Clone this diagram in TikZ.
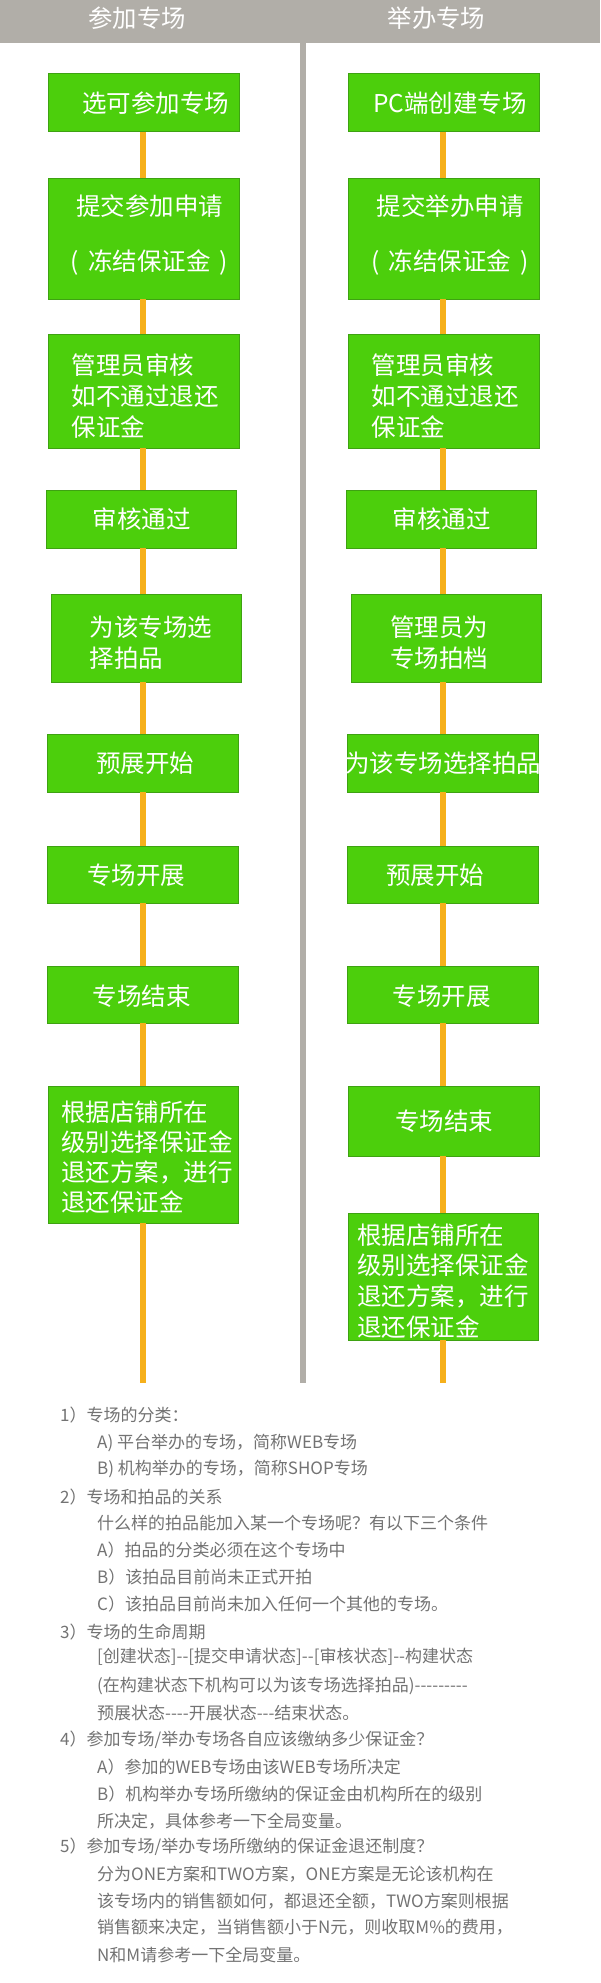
\documentclass[tikz,border=0pt]{standalone}
\usepackage{fontspec}
\newfontfamily\cjk{Noto Sans CJK SC}
\definecolor{hdrgray}{HTML}{B1AEA8}
\definecolor{boxgreen}{HTML}{4CCF0C}
\definecolor{boxedge}{HTML}{3EA212}
\definecolor{lineorange}{HTML}{F6B01B}
\definecolor{notegray}{HTML}{737373}
\tikzset{
  flowbox/.style={draw=boxedge, line width=1pt, fill=boxgreen, inner sep=0pt, outer sep=0pt},
  boxtext/.style={text=white, inner sep=0pt, font=\cjk\fontsize{24.5pt}{31pt}\selectfont},
  conn/.style={draw=lineorange, line width=6pt},
  hdrtext/.style={text=white, inner sep=0pt, font=\cjk\fontsize{24.4pt}{28pt}\selectfont},
  note/.style={text=notegray, inner sep=0pt, anchor=west, font=\cjk\fontsize{17pt}{20pt}\selectfont}
}
\newcommand{\flowrect}[5]{% name, x1, x2, y1, y2
  \node[flowbox, minimum width={(#3-#2)*1pt}, minimum height={(#5-#4)*1pt}] (#1) at ({(#2+#3)/2},{(#4+#5)/2}) {};}
\newcommand{\frozentext}{(\hspace{9pt}冻结保证金\hspace{9pt})}
\begin{document}
\begin{tikzpicture}[x=1pt,y=-1pt]
\useasboundingbox (0,0) rectangle (600,1983);
\fill[white] (0,0) rectangle (600,1983);
% header
\fill[hdrgray] (0,0) rectangle (600,43);
\fill[hdrgray] (300,43) rectangle (306,1383);
\node[hdrtext] (h1) at (137,18.5) {参加专场};
\node[hdrtext] (h2) at (436.5,18.5) {举办专场};
% left boxes
\flowrect{l1}{48}{239}{74}{132}
\flowrect{l2}{48}{239}{178}{299}
\flowrect{l3}{48}{239}{334}{448}
\flowrect{l4}{46}{236.5}{490}{548}
\flowrect{l5}{51}{241.5}{594}{682}
\flowrect{l6}{47}{238}{734}{792}
\flowrect{l7}{47}{238}{846}{903}
\flowrect{l8}{47}{238}{966}{1023}
\flowrect{l9}{48}{238}{1086}{1223}
% right boxes
\flowrect{r1}{348}{539}{74}{132}
\flowrect{r2}{348}{539}{178}{299}
\flowrect{r3}{348}{539}{334}{448}
\flowrect{r4}{346}{536.5}{490}{548}
\flowrect{r5}{351}{541.5}{594}{682}
\flowrect{r6}{347}{538}{734}{792}
\flowrect{r7}{347}{538}{846}{903}
\flowrect{r8}{347}{538}{966}{1023}
\flowrect{r9}{348}{539}{1086}{1156}
\flowrect{r10}{348}{538}{1213}{1340}
% axis coordinates
\coordinate (lx) at (143,0);
\coordinate (rx) at (443,0);
\coordinate (lend) at (143,1383);
\coordinate (rend) at (443,1383);
% connectors
\foreach \a/\b in {l1/l2,l2/l3,l3/l4,l4/l5,l5/l6,l6/l7,l7/l8,l8/l9}
  \draw[conn] (\a.south -| lx) -- (\b.north -| lx);
\draw[conn] (l9.south -| lx) -- (lend);
\foreach \a/\b in {r1/r2,r2/r3,r3/r4,r4/r5,r5/r6,r6/r7,r7/r8,r8/r9,r9/r10}
  \draw[conn] (\a.south -| rx) -- (\b.north -| rx);
\draw[conn] (r10.south -| rx) -- (rend);
% box texts left
\node[boxtext] (l1t) at (155.5,103) {选可参加专场};
\node[boxtext, align=center, font=\cjk\fontsize{24.5pt}{55pt}\selectfont] (l2t) at (149.5,234.5) {提交参加申请\\\frozentext};
\node[boxtext, align=left, anchor=west] (l3t) at (71.5,396) {管理员审核\\如不通过退还\\保证金};
\node[boxtext] (l4t) at (141.6,519) {审核通过};
\node[boxtext, align=left, anchor=west] (l5t) at (89.5,642.5) {为该专场选\\择拍品};
\node[boxtext] (l6t) at (145,763) {预展开始};
\node[boxtext] (l7t) at (136,875) {专场开展};
\node[boxtext] (l8t) at (141.6,996) {专场结束};
\node[boxtext, align=left, anchor=west, font=\cjk\fontsize{24.5pt}{30pt}\selectfont] (l9t) at (61,1157.5) {根据店铺所在\\级别选择保证金\\退还方案，进行\\退还保证金};
% box texts right
\node[boxtext] (r1t) at (450,103) {PC端创建专场};
\node[boxtext, align=center, font=\cjk\fontsize{24.5pt}{55pt}\selectfont] (r2t) at (450,234.5) {提交举办申请\\\frozentext};
\node[boxtext, align=left, anchor=west] (r3t) at (371.5,396) {管理员审核\\如不通过退还\\保证金};
\node[boxtext] (r4t) at (441.5,519) {审核通过};
\node[boxtext, align=left, anchor=west] (r5t) at (390,642.5) {管理员为\\专场拍档};
\node[boxtext] (r6t) at (443,763) {为该专场选择拍品};
\node[boxtext] (r7t) at (435,875) {预展开始};
\node[boxtext] (r8t) at (441.8,996) {专场开展};
\node[boxtext] (r9t) at (444,1121) {专场结束};
\node[boxtext, align=left, anchor=west, font=\cjk\fontsize{24.5pt}{30.7pt}\selectfont] (r10t) at (357,1281) {根据店铺所在\\级别选择保证金\\退还方案，进行\\退还保证金};
% notes
\node[note] (n1) at (60,1415) {1）专场的分类：};
\node[note] (n2) at (97,1443) {A) 平台举办的专场，简称WEB专场};
\node[note] (n3) at (97,1469) {B) 机构举办的专场，简称SHOP专场};
\node[note] (n4) at (60,1497) {2）专场和拍品的关系};
\node[note] (n5) at (97,1523) {什么样的拍品能加入某一个专场呢？有以下三个条件};
\node[note] (n6) at (97,1550) {A）拍品的分类必须在这个专场中};
\node[note] (n7) at (97,1577) {B）该拍品目前尚未正式开拍};
\node[note] (n8) at (97,1604) {C）该拍品目前尚未加入任何一个其他的专场。};
\node[note] (n9) at (60,1632) {3）专场的生命周期};
\node[note] (n10) at (97,1657) {[创建状态]--[提交申请状态]--[审核状态]--构建状态};
\node[note] (n11) at (97,1686) {(在构建状态下机构可以为该专场选择拍品)---------};
\node[note] (n12) at (97,1713) {预展状态----开展状态---结束状态。};
\node[note] (n13) at (60,1740) {4）参加专场/举办专场各自应该缴纳多少保证金？};
\node[note] (n14) at (97,1767) {A）参加的WEB专场由该WEB专场所决定};
\node[note] (n15) at (97,1794) {B）机构举办专场所缴纳的保证金由机构所在的级别};
\node[note] (n16) at (97,1821) {所决定，具体参考一下全局变量。};
\node[note] (n17) at (60,1847) {5）参加专场/举办专场所缴纳的保证金退还制度？};
\node[note] (n18) at (97,1874) {分为ONE方案和TWO方案，ONE方案是无论该机构在};
\node[note] (n19) at (97,1901) {该专场内的销售额如何，都退还全额，TWO方案则根据};
\node[note] (n20) at (97,1927) {销售额来决定，当销售额小于N元，则收取M\%的费用，};
\node[note] (n21) at (97,1955) {N和M请参考一下全局变量。};
\end{tikzpicture}
\end{document}
